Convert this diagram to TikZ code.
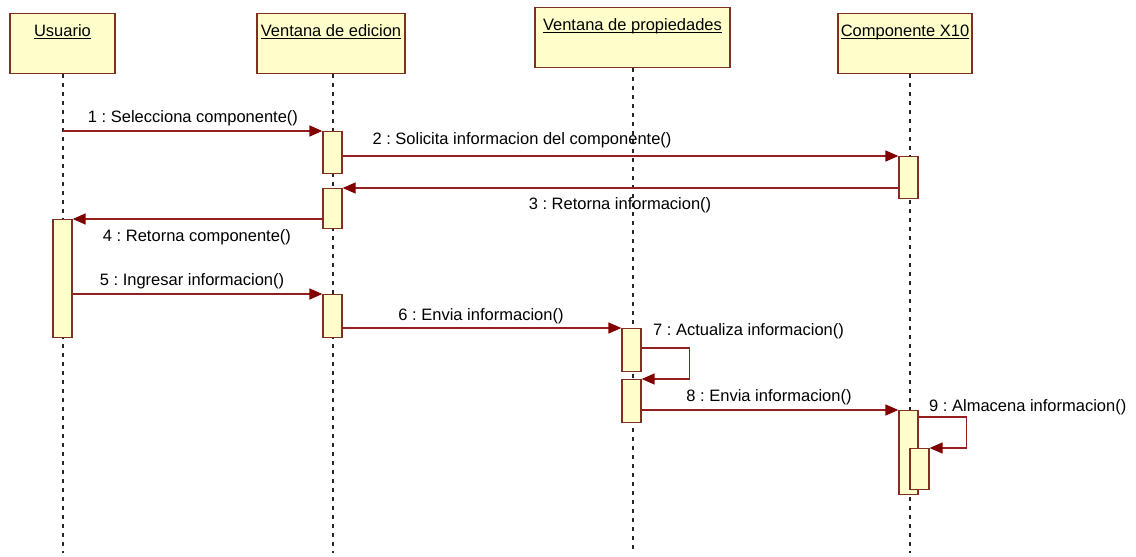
\documentclass[tikz,border=0pt]{standalone}
\usepackage{fontspec}
\setmainfont{Liberation Sans}
\usetikzlibrary{arrows.meta}

\definecolor{boxfill}{RGB}{255,255,204}
\definecolor{boxline}{RGB}{128,48,32}
\definecolor{msgline}{RGB}{150,30,30}
\definecolor{msghead}{RGB}{128,0,0}

\newcommand{\objname}[1]{\underline{\smash{#1}}}
\frenchspacing

\begin{document}
\begin{tikzpicture}[x=1pt,y=-1pt,
		every node/.style={font=\fontsize{16.5}{19}\selectfont,inner sep=0pt},
		obj/.style={draw=boxline,fill=boxfill,line width=1.3pt,text height=23pt,text depth=37pt,anchor=north},
		act/.style={draw=boxline,fill=boxfill,line width=1.3pt,minimum width=19pt,anchor=north},
		lifeline/.style={black!85,line width=1.1pt,dash pattern=on 4pt off 5pt},
		msg/.style={draw=msgline,line width=1.4pt,-{Triangle[length=13pt,width=11pt,color=msghead]}},
	]
		\useasboundingbox (0,0) rectangle (1136,557);
		\fill[white] (0,0) rectangle (1136,557);

		\node[obj,minimum width=105pt] (usr) at (62.5,13) {\objname{Usuario}};
		\node[obj,minimum width=148pt] (edi) at (331,13) {\objname{Ventana de edicion}};
		\node[obj,minimum width=195pt] (prop) at (632.5,7) {\objname{Ventana de propiedades}};
		\node[obj,minimum width=134pt] (comp) at (905,13) {\objname{Componente X10}};

		\coordinate (bot) at (0,553);
		\foreach \o/\dx in {usr/0.5,edi/2,prop/0.5,comp/5}{
			\coordinate (l\o) at ([xshift=\dx pt]\o.south);
			\draw[lifeline] (l\o) -- (l\o |- bot);
		}

		\node[act,minimum height=118pt] (u1) at (62.5,219) {};
		\node[act,minimum height=42pt] (e1) at (332.5,131) {};
		\node[act,minimum height=40pt] (e2) at (332.5,188) {};
		\node[act,minimum height=43pt] (e3) at (332.5,294) {};
		\node[act,minimum height=43pt] (p1) at (631.5,328) {};
		\node[act,minimum height=43pt] (p2) at (631.5,379) {};
		\node[act,minimum height=42pt] (c1) at (908.5,156) {};
		\node[act,minimum height=84pt] (c2) at (908.5,410) {};
		\node[act,minimum height=41pt] (c3) at (919.5,448) {};

		\draw[msg] (e1.north west -| lusr) -- (e1.north west);
		\draw[msg] (c1.north west -| e1.east) -- (c1.north west);
		\draw[msg] (e2.north east -| c1.west) -- (e2.north east);
		\draw[msg] (u1.north east -| e2.west) -- (u1.north east);
		\draw[msg] (e3.north west -| u1.east) -- (e3.north west);
		\draw[msg] (p1.north west -| e3.east) -- (p1.north west);
		\draw[msg] ([yshift=-20pt]p1.north east) -- ++(48,0) |- (p2.north east);
		\draw[msg] (c2.north west -| p2.east) -- (c2.north west);
		\draw[msg] ([yshift=-7pt]c2.north east) -- ++(48,0) |- (c3.north east);

		\node (m1) at (193,118) {1 : Selecciona componente()};
		\node (m2) at (522,140) {2 : Solicita informacion del componente()};
		\node (m3) at (620,205) {3 : Retorna informacion()};
		\node (m4) at (197,237) {4 : Retorna componente()};
		\node (m5) at (192,281) {5 : Ingresar informacion()};
		\node (m6) at (481,316) {6 : Envia informacion()};
		\node[anchor=west] (m7) at (653,331) {7 : Actualiza informacion()};
		\node (m8) at (769,397) {8 : Envia informacion()};
		\node[anchor=west] (m9) at (929,407) {9 : Almacena informacion()};
	\end{tikzpicture}
\end{document}
